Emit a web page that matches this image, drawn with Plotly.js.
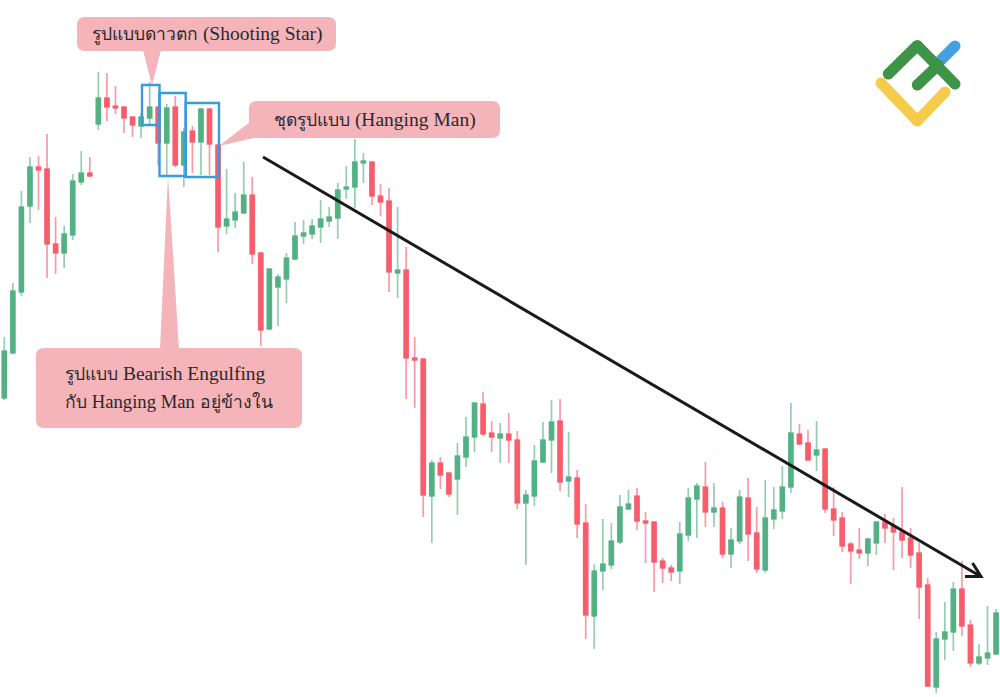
<!DOCTYPE html>
<html><head><meta charset="utf-8">
<script src="https://cdn.plot.ly/plotly-3.0.1.min.js"></script>
<style>html,body{margin:0;padding:0;background:#fff;overflow:hidden}#chart{width:1000px;height:697px}</style>
</head><body><div id="chart"></div>
<script>
const open_ = [299,344,405,491,530,528,453,444,462,515,524,573,599,591,590,580,571,579,590,554,590,532,566,555,588,552,471,477,484,502,444,368,410,418,438,461,463,470,476,479,508,510,534,535,501,496,424,427,339,338,201,234,224,218,240,260,293,264,259,263,257,194,201,235,257,276,216,219,174,81,126,132,155,188,201,176,175,136,129,126,162,198,210,185,189,143,156,199,164,127,178,186,210,263,254,242,248,188,179,153,147,144,154,175,171,165,159,144,112,10,58,65,108,72,34,39,43];
const high = [360,414,506,540,541,563,480,471,523,546,540,625,624,611,590,580,584,615,590,593,601,569,571,588,588,552,528,504,535,520,444,428,423,444,475,477,478,497,490,514,531,558,544,535,513,509,490,450,360,338,237,240,224,254,280,294,305,276,274,284,266,207,252,275,297,298,265,227,193,133,178,174,202,207,209,185,175,139,132,175,209,214,235,214,195,169,207,219,190,217,210,231,294,273,267,276,248,210,185,155,169,159,175,183,179,210,169,154,119,65,95,115,136,77,53,91,88];
const low = [297,343,401,474,487,419,423,429,457,512,520,567,576,583,564,560,559,571,532,522,530,510,524,522,522,445,463,469,484,433,351,367,371,394,437,453,458,454,470,458,498,489,514,492,481,405,399,298,289,180,154,208,200,182,230,245,261,245,234,234,188,132,191,234,224,206,200,159,58,48,107,128,153,187,167,134,105,114,116,113,156,159,170,170,139,129,153,136,124,124,168,178,204,252,236,226,184,161,145,113,138,131,142,154,127,139,129,78,10,4,37,46,61,30,32,32,42];
const close_ = [346,406,490,530,527,453,444,463,516,524,521,599,590,589,579,572,580,590,554,589,532,565,555,588,553,470,478,485,502,443,367,428,420,439,461,464,471,478,480,507,510,535,536,501,495,425,427,339,337,202,234,222,203,241,260,294,263,260,263,257,194,202,236,257,275,215,220,173,82,126,133,156,190,193,176,174,135,129,125,163,199,211,185,189,143,157,200,163,128,179,187,210,264,253,237,247,188,177,151,146,144,158,175,169,165,157,142,110,11,58,65,108,71,34,40,44,84];
const index_ = open_.map((_, i) => i);

const calloutThai = ["รูปแบบดาวตก", "ชุดรูปแบบ", "รูปแบบ", "กับ", "อยู่ข้างใน"];
const calloutLatin = ["(Shooting Star)", "(Hanging Man)", "Bearish Engulfing", "Hanging Man"];

const W = 1000, H = 697;
const px = x => x / W, py = y => 1 - y / H;
const P = (x, y) => px(x) + "," + py(y);
const PINK = "#f4b4ba";
function poly(points, close) {
  return "M" + points.map(p => P(p[0], p[1])).join("L") + (close ? "Z" : "");
}
function roundRect(x0, y0, x1, y1, r) {
  return "M" + P(x0 + r, y0) + "L" + P(x1 - r, y0) + "Q" + P(x1, y0) + " " + P(x1, y0 + r) +
    "L" + P(x1, y1 - r) + "Q" + P(x1, y1) + " " + P(x1 - r, y1) +
    "L" + P(x0 + r, y1) + "Q" + P(x0, y1) + " " + P(x0, y1 - r) +
    "L" + P(x0, y0 + r) + "Q" + P(x0, y0) + " " + P(x0 + r, y0) + "Z";
}
function fillShape(path, color) {
  return {type: "path", xref: "paper", yref: "paper", path, fillcolor: color, line: {width: 0}, layer: "above"};
}
function strokeShape(points, color, width, closed) {
  return {type: "path", xref: "paper", yref: "paper", path: poly(points, closed), line: {color, width}, layer: "above"};
}
function dot(x, y, r, color) {
  return {type: "circle", xref: "paper", yref: "paper", x0: px(x - r), x1: px(x + r), y0: py(y + r), y1: py(y - r), fillcolor: color, line: {width: 0}, layer: "above"};
}
function rect(x0, y0, x1, y1, color, width) {
  return strokeShape([[x0, y0], [x1, y0], [x1, y1], [x0, y1]], color, width, true);
}
function roundStroke(points, color, width) {
  const out = [];
  points.forEach((p, i) => {
    if (i > 0) out.push(strokeShape([points[i - 1], p], color, width));
    out.push(dot(p[0], p[1], width / 2, color));
  });
  return out;
}

const BLUE = "#3a9bdc";
const shapes = [
  fillShape(roundRect(77, 17, 336, 51, 8), PINK),
  fillShape(poly([[143, 50], [161, 50], [152, 85]], true), PINK),
  fillShape(roundRect(249, 101, 500, 138, 8), PINK),
  fillShape(poly([[250, 122], [258, 137], [219, 146]], true), PINK),
  fillShape(roundRect(36, 348, 302, 428, 8), PINK),
  fillShape(poly([[160, 349], [179, 349], [168, 176]], true), PINK),
  rect(142, 85, 159.5, 125, BLUE, 2.4),
  rect(159.5, 93, 185.7, 176, BLUE, 2.4),
  rect(185.7, 103, 219, 177, BLUE, 2.4),
  strokeShape([[263, 157], [980, 576]], "#1a1a1a", 3),
  strokeShape([[972.5, 563], [981, 576.5], [965, 576.5]], "#1a1a1a", 3),
  ...roundStroke([[881, 83], [917.3, 121], [945, 92]], "#f4cb4a", 11),
  ...roundStroke([[941, 60], [955, 46]], "#45a0e0", 11),
  ...roundStroke([[888.3, 74], [917.3, 45.5], [955, 84]], "#3d9447", 11),
  ...roundStroke([[917.3, 85], [938.3, 65]], "#3d9447", 11)
];

const THAI_SIZE = 17.5, LATIN_SIZE = 19.5;
const th = t => `<span style="font-size:${THAI_SIZE}px">${t}</span>`;
function label(text, x, y, anchor, size) {
  return {text, xref: "paper", yref: "paper", x: px(x), y: py(y), xanchor: anchor, yanchor: "middle", showarrow: false,
    font: {family: "'Liberation Serif', serif", size: size || LATIN_SIZE, color: "#2a2a2a"}};
}

const wicks = {
  type: "candlestick", x: index_, open: open_, high, low, close: close_,
  whiskerwidth: 0,
  increasing: {line: {color: "#96cdb2", width: 1.7}, fillcolor: "#52b184"},
  decreasing: {line: {color: "#f89aa5", width: 1.7}, fillcolor: "#f85d6c"},
  hoverinfo: "skip"
};
const bodies = {
  type: "candlestick", x: index_, open: open_, close: close_,
  high: open_.map((v, i) => Math.max(v, close_[i])),
  low: open_.map((v, i) => Math.min(v, close_[i])),
  whiskerwidth: 0,
  increasing: {line: {color: "#52b184", width: 1}, fillcolor: "#52b184"},
  decreasing: {line: {color: "#f85d6c", width: 1}, fillcolor: "#f85d6c"},
  hoverinfo: "skip"
};

Plotly.newPlot("chart", [wicks, bodies], {
  width: W, height: H,
  margin: {l: 0, r: 0, t: 0, b: 0, pad: 0},
  paper_bgcolor: "#fff", plot_bgcolor: "#fff", showlegend: false,
  boxmode: "overlay",
  xaxis: {visible: false, range: [-0.503, 116.456], rangeslider: {visible: false}, fixedrange: true},
  yaxis: {visible: false, range: [0, 697], fixedrange: true},
  shapes,
  annotations: [
    label(th(calloutThai[0]) + " " + calloutLatin[0], 207, 34, "center"),
    label(th(calloutThai[1]) + " " + calloutLatin[1], 375, 120, "center"),
    label(th(calloutThai[2]) + " " + calloutLatin[2], 63, 374, "left"),
    label(th(calloutThai[3]) + " " + calloutLatin[3] + " " + th(calloutThai[4]), 63, 402, "left", 18.7)
  ]
}, {displayModeBar: false, staticPlot: true});
</script></body></html>
